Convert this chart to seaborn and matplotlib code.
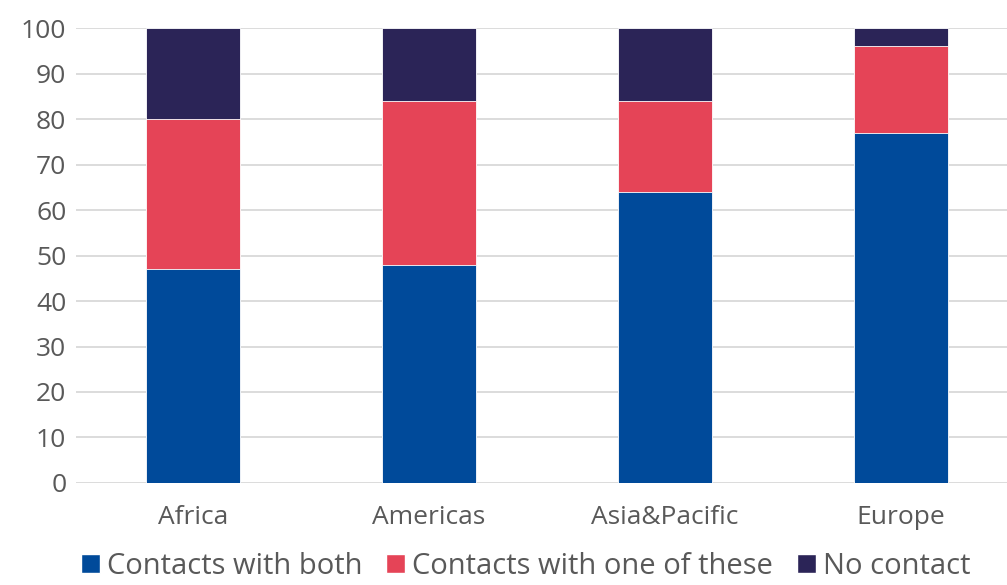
import matplotlib
matplotlib.use("Agg")
import matplotlib.pyplot as plt
from matplotlib.patches import Patch
import numpy as np
import pandas as pd
import seaborn as sns

regions = ["Africa", "Americas", "Asia&Pacific", "Europe"]
both = [47, 48, 64, 77]
one_of_these = [33, 36, 20, 19]
no_contact = [20, 16, 16, 4]

series = ["Contacts with both", "Contacts with one of these", "No contact"]
colors = ["#004A9A", "#E54457", "#2B2457"]

sns.set_theme(style="white")
plt.rcParams["font.family"] = ["Open Sans", "DejaVu Sans"]
text_color = "#595959"

# cumulative tops, drawn tallest first so lower layers sit on top
layers = np.cumsum([both, one_of_these, no_contact], axis=0)

fig = plt.figure(figsize=(10.07, 5.85), dpi=100)
ax = fig.add_axes([0.0755, 0.1744, 0.9245, 0.7776])

for i in reversed(range(3)):
    df = pd.DataFrame({"region": regions, "value": layers[i]})
    sns.barplot(data=df, x="region", y="value", color=colors[i], width=0.4,
                saturation=1, edgecolor="white", linewidth=0.6, ax=ax, zorder=3)

ax.set_ylim(0, 100)
ax.set_xlim(-0.496, 3.449)
ax.set_yticks(range(0, 101, 10))
ax.yaxis.grid(True, color="#D9D9D9", linewidth=1.3, zorder=0)
ax.set_axisbelow(True)
for s in ax.spines.values():
    s.set_visible(False)
ax.set_xlabel("")
ax.set_ylabel("")
ax.tick_params(axis="y", labelsize=19, colors=text_color, pad=7, length=0)
ax.tick_params(axis="x", labelsize=19, colors=text_color, pad=16, length=0)

handles = [Patch(facecolor=c, label=l) for c, l in zip(colors, series)]
fig.legend(handles=handles, loc="lower center", bbox_to_anchor=(0.522, -0.038),
           ncol=3, frameon=False, fontsize=21, handlelength=0.65, handleheight=0.65,
           handletextpad=0.25, columnspacing=0.8, labelcolor=text_color)

fig.savefig("out.png", dpi=100)
